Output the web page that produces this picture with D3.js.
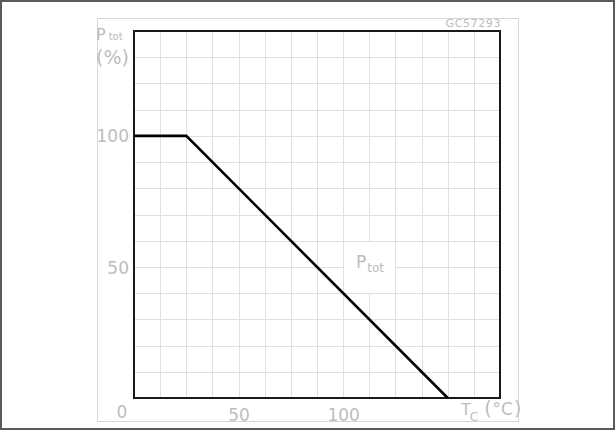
<!DOCTYPE html>
<html>
<head>
<meta charset="utf-8">
<script src="https://cdnjs.cloudflare.com/ajax/libs/d3/7.8.5/d3.min.js"></script>
<style>
  body { margin: 0; background: #fff; }
  text { font-family: "DejaVu Sans", sans-serif; fill: #bdbdbd; }
</style>
</head>
<body>
<script>
// power derating curve, Ptot (%) vs case temperature Tc (°C)
var tempC = [0, 25, 150];
var ptotPct = [100, 100, 0];

var xTicks = [50, 100];
var yTicks = [50, 100];

var width = 615;
var height = 430;

var x = d3.scaleLinear().domain([0, 175]).range([134, 500]);
var y = d3.scaleLinear().domain([0, 140]).range([398, 31]);

var svg = d3.select("body")
			.append("svg")
			.attr("width", width)
			.attr("height", height);

// page border
svg.append("rect")
	.attr("x", 1).attr("y", 1)
	.attr("width", 613).attr("height", 428)
	.style("fill", "none")
	.style("stroke", "#5a5a5a")
	.style("stroke-width", 2);

// light frame round the figure
svg.append("rect")
	.attr("x", 97.5).attr("y", 18.5)
	.attr("width", 421).attr("height", 403)
	.style("fill", "none")
	.style("stroke", "#d6d6d6")
	.style("stroke-width", 1);

// grid
var grid = svg.append("g").attr("class", "grid");

grid.selectAll("line.v")
	.data(d3.range(12.5, 175, 12.5))
	.enter().append("line")
	.attr("class", "v")
	.attr("x1", function(d) { return Math.round(x(d)) + 0.5; })
	.attr("x2", function(d) { return Math.round(x(d)) + 0.5; })
	.attr("y1", y(140)).attr("y2", y(0))
	.style("stroke", "#e0e0e0");

grid.selectAll("line.h")
	.data(d3.range(10, 140, 10))
	.enter().append("line")
	.attr("class", "h")
	.attr("y1", function(d) { return Math.round(y(d)) + 0.5; })
	.attr("y2", function(d) { return Math.round(y(d)) + 0.5; })
	.attr("x1", x(0)).attr("x2", x(175))
	.style("stroke", "#e0e0e0");

// white patch behind the curve label
svg.append("rect")
	.attr("x", Math.round(x(100)) + 1)
	.attr("y", Math.round(y(60)) + 1)
	.attr("width", Math.round(x(125)) - Math.round(x(100)) - 1)
	.attr("height", Math.round(y(40)) - Math.round(y(60)) - 1)
	.style("fill", "#fff");

// plot box
svg.append("rect")
	.attr("x", x(0)).attr("y", y(140))
	.attr("width", x(175) - x(0))
	.attr("height", y(0) - y(140))
	.style("fill", "none")
	.style("stroke", "#1a1a1a")
	.style("stroke-width", 2);

// curve
var line = d3.line()
	.x(function(d, i) { return x(tempC[i]); })
	.y(function(d, i) { return y(ptotPct[i]); });

svg.append("path")
	.datum(tempC)
	.attr("d", line)
	.style("fill", "none")
	.style("stroke", "#000")
	.style("stroke-width", 2.6);

// axes (labels only)
var yAxis = svg.append("g")
	.attr("transform", "translate(" + x(0) + ",0)")
	.call(d3.axisLeft(y).tickValues(yTicks).tickSize(0).tickPadding(5));

var xAxis = svg.append("g")
	.attr("transform", "translate(0," + y(0) + ")")
	.call(d3.axisBottom(x).tickValues(xTicks).tickSize(0).tickPadding(5));

svg.selectAll(".domain").remove();
svg.selectAll(".tick text")
	.style("font-size", "17px")
	.style("font-family", "\"DejaVu Sans\", sans-serif")
	.style("fill", "#bdbdbd");
yAxis.selectAll(".tick text").attr("dy", "0.36em");
xAxis.selectAll(".tick text").attr("dy", "1.05em");

// zero of the x axis sits a bit left of the corner
svg.append("text")
	.attr("x", x(0) - 12)
	.attr("y", 418)
	.attr("text-anchor", "middle")
	.style("font-size", "17px")
	.text("0");

// axis titles
var yTitle = svg.append("text")
	.attr("x", 96).attr("y", 40)
	.style("font-size", "16px");
yTitle.append("tspan").text("P");
yTitle.append("tspan").attr("dx", 3).style("font-size", "10px").text("tot");

svg.append("text")
	.attr("x", 96).attr("y", 64)
	.style("font-size", "19px")
	.text("(%)");

var xTitle = svg.append("text")
	.attr("x", 461).attr("y", 415)
	.style("font-size", "16px");
xTitle.append("tspan").text("T");
xTitle.append("tspan").attr("dy", 6).attr("dx", -1).style("font-size", "12px").text("C");
xTitle.append("tspan").attr("dy", -6).attr("dx", 6).style("font-size", "19px").text("(");
xTitle.append("tspan").attr("dx", 1).style("font-size", "17px").text("°C");
xTitle.append("tspan").attr("dx", 1).style("font-size", "19px").text(")");

// curve label
var curveLabel = svg.append("text")
	.attr("x", 356).attr("y", 268)
	.style("font-size", "17px");
curveLabel.append("tspan").text("P");
curveLabel.append("tspan").attr("dy", 4).attr("dx", 1).style("font-size", "12px").text("tot");

// drawing reference
svg.append("text")
	.attr("x", 501).attr("y", 27)
	.attr("text-anchor", "end")
	.style("font-size", "11px")
	.style("letter-spacing", "0.6px")
	.text("GC57293");
</script>
</body>
</html>
